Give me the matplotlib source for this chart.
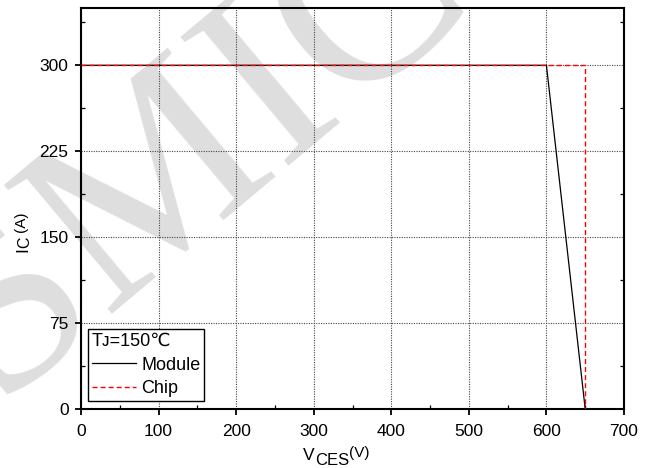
import matplotlib.pyplot as plt
from matplotlib.ticker import MultipleLocator, NullFormatter

plt.rcParams['font.family'] = ['Liberation Sans', 'DejaVu Sans']

# safe operating area curves
module_v = [0, 600, 650]
module_i = [300, 300, 0]
chip_v = [0, 650, 650]
chip_i = [300, 300, 0]
x_ticks = [0, 100, 200, 300, 400, 500, 600, 700]
y_ticks = [0, 75, 150, 225, 300]

W, H = 647, 468
fig = plt.figure(figsize=(W / 100, H / 100), dpi=100)


def px(x, y):
    # pixel position (from top-left) -> figure fraction
    return x / W, 1 - y / H


ax = fig.add_axes([81 / W, 59 / H, 543 / W, 401 / H])
ax.set_facecolor("none")

# faint watermark behind everything (runs off the figure edge like the original)
fig.text(*px(195, 150), "SMIC", fontsize=185, color="#dedede", rotation=40,
         rotation_mode="anchor", ha="center", va="center",
         family="Liberation Serif", zorder=-5)

ax.plot(module_v, module_i, color="black", lw=0.9, label="Module", zorder=3)
ax.plot(chip_v, chip_i, color="red", lw=1.0, ls=(0, (3.6, 2.2)), label="Chip", zorder=4)

ax.set_xlim(0, 700)
ax.set_ylim(0, 350)
ax.set_xticks(x_ticks)
ax.set_yticks(y_ticks)
ax.xaxis.set_minor_locator(MultipleLocator(50))
ax.yaxis.set_minor_locator(MultipleLocator(37.5))
ax.tick_params(which="major", direction="out", length=4, width=1.3, labelsize=12.5)
ax.tick_params(axis="x", which="major", pad=6.5)
ax.tick_params(axis="y", which="major", pad=5)
ax.tick_params(which="minor", direction="in", length=3, width=0.9)
ax.grid(True, which="major", color="#444444", ls=(0, (1, 1.2)), lw=0.8)
for s in ax.spines.values():
    s.set_linewidth(1.5)

# inward minor ticks on the right spine only
axr = ax.twinx()
axr.set_ylim(ax.get_ylim())
axr.set_yticks(y_ticks)
axr.yaxis.set_minor_locator(MultipleLocator(37.5))
axr.yaxis.set_major_formatter(NullFormatter())
axr.tick_params(which="major", length=0)
axr.tick_params(which="minor", direction="in", length=3, width=0.9)
for s in axr.spines.values():
    s.set_visible(False)

# x label: V_CES^(V)
fig.text(*px(303, 460), "V", fontsize=12.5, ha="left", va="baseline")
fig.text(*px(315, 465), "CES", fontsize=12, ha="left", va="baseline")
fig.text(*px(349, 457), "(V)", fontsize=11, ha="left", va="baseline")

# y label: I_C^(A), rotated
rot = dict(rotation=90, rotation_mode="anchor", ha="left", va="baseline")
fig.text(*px(27, 252), "I", fontsize=12.5, **rot)
fig.text(*px(29, 248), "C", fontsize=11.5, **rot)
fig.text(*px(25, 232), "(A)", fontsize=11, **rot)

leg = ax.legend(title="Tᴊ=150℃", loc="lower left", bbox_to_anchor=(7 / 543, 8 / 401),
                fontsize=13, title_fontsize=13, handlelength=2.45, handletextpad=0.3,
                borderpad=0.2, labelspacing=0.38, fancybox=False, framealpha=1,
                edgecolor="black", borderaxespad=0)
leg._legend_box.align = "left"
leg.get_frame().set_linewidth(1.0)
leg.set_zorder(10)

fig.savefig("out.png", dpi=100)
